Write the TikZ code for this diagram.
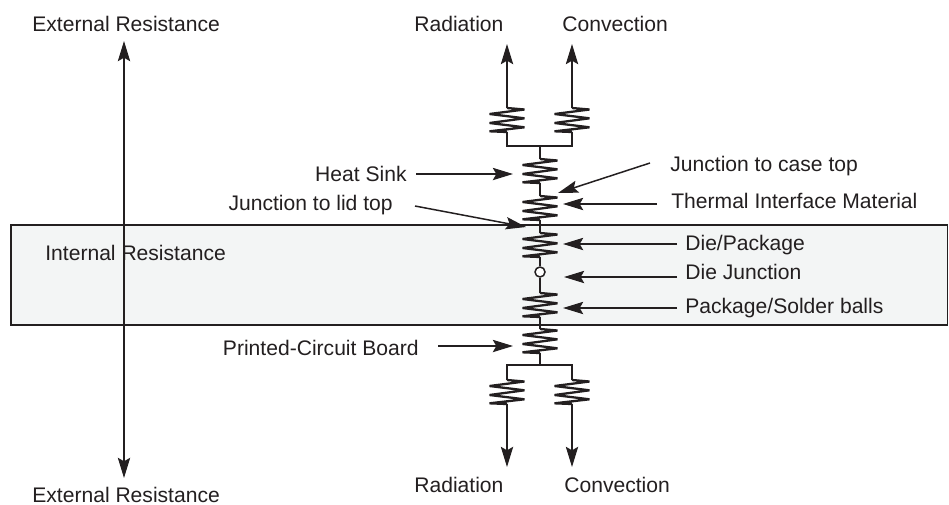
\documentclass[tikz,border=0pt]{standalone}
\usepackage{fontspec}
\setmainfont{Liberation Sans}
\usetikzlibrary{positioning, arrows.meta, calc}
\definecolor{bandfill}{HTML}{F3F5F5}
\definecolor{inkblack}{HTML}{231F20}
\tikzset{
    band/.style={
        rectangle,
        draw=inkblack,
        fill=bandfill,
        line width=0.85pt,
        inner sep=0pt,
        minimum width=18.73cm,
        minimum height=2cm
    },
    wire/.style={
        draw=inkblack,
        line width=0.85pt
    },
    flow/.style={
        draw=inkblack,
        line width=0.85pt,
        -{Stealth[length=11.5pt,width=7pt,inset=2pt]}
    },
    dualflow/.style={
        draw=inkblack,
        line width=0.85pt,
        {Stealth[length=11.5pt,width=7pt,inset=2pt]}-{Stealth[length=11.5pt,width=7pt,inset=2pt]}
    },
    lbl/.style={
        text=inkblack,
        font=\fontsize{12}{14}\selectfont,
        inner sep=0pt,
        anchor=base west
    },
    rlbl/.style={
        lbl,
        anchor=base east
    },
    junction/.style={
        circle,
        draw=inkblack,
        fill=white,
        line width=0.85pt,
        inner sep=0pt,
        minimum size=0.2cm
    },
    zigres/.pic={
        \coordinate (-t) at (0,-12);
        \coordinate (-b) at (0,12);
        \draw[draw=inkblack, line width=1.3pt, line join=bevel]
            (-t) -- (17.5,-10.5) -- (-17.5,-6) -- (17.5,-1.7) -- (-17.5,3) -- (17.5,7.3) -- (-17.5,11.3) -- (-b);
    }
}

\begin{document}
\begin{tikzpicture}[x=0.02cm, y=-0.02cm]
      \useasboundingbox (0,0) rectangle (949,504);

      \node[band] (band) at (479.3,275) {};

      % resistor chain
      \pic (rtl) at (507,120) {zigres};
      \pic (rtr) at (572,120) {zigres};
      \pic (hs)  at (540,171) {zigres};
      \pic (tim) at (540,208) {zigres};
      \pic (die) at (540,245) {zigres};
      \node[junction] (dj) at (540,272) {};
      \pic (pkg) at (540,305) {zigres};
      \pic (pcb) at (540,341) {zigres};
      \pic (rbl) at (507,392) {zigres};
      \pic (rbr) at (572,392) {zigres};

      \coordinate (tj) at (540,146);
      \coordinate (bj) at (540,365);

      \draw[wire] (rtl-b) |- (tj);
      \draw[wire] (rtr-b) |- (tj);
      \draw[wire] (tj) -- (hs-t);
      \draw[wire] (hs-b) -- (tim-t);
      \draw[wire] (tim-b) -- (die-t);
      \draw[wire] (die-b) -- (dj);
      \draw[wire] (dj) -- (pkg-t);
      \draw[wire] (pkg-b) -- (pcb-t);
      \draw[wire] (pcb-b) -- (bj);
      \draw[wire] (rbl-t) |- (bj);
      \draw[wire] (rbr-t) |- (bj);

      % outer flows
      \coordinate (rtlend) at (507,44);
      \coordinate (rtrend) at (572,44);
      \coordinate (rblend) at (507,467);
      \coordinate (rbrend) at (572,467);
      \draw[flow] (rtl-t) -- (rtlend);
      \draw[flow] (rtr-t) -- (rtrend);
      \draw[flow] (rbl-b) -- (rblend);
      \draw[flow] (rbr-b) -- (rbrend);

      \node[lbl] (radtop)  at (414,31)  {Radiation};
      \node[lbl] (contop)  at (562,31)  {Convection};
      \node[lbl] (radbot)  at (414,492) {Radiation};
      \node[lbl] (conbot)  at (564,492) {Convection};

      % external span
      \node[lbl] (exttop) at (32,31)  {External Resistance};
      \node[lbl] (extbot) at (32,502) {External Resistance};
      \coordinate (spant) at (124,41);
      \coordinate (spanb) at (124,478);
      \draw[dualflow] (spant) -- (spanb);
      \node[lbl] (intres) at (45,260) {Internal Resistance};

      % left callouts
      \node[rlbl] (hslbl)  at (407,181) {Heat Sink};
      \node[rlbl] (lidlbl) at (393,210) {Junction to lid top};
      \node[rlbl] (pcblbl) at (419,355) {Printed-Circuit Board};
      \coordinate (hssrc)  at (416,174);
      \coordinate (hstip)  at (513,174);
      \coordinate (lidsrc) at (415,206);
      \coordinate (lidtip) at (526,227);
      \coordinate (pcbsrc) at (438,346);
      \coordinate (pcbtip) at (513,346);
      \draw[flow] (hssrc) -- (hstip);
      \draw[flow] (lidsrc) -- (lidtip);
      \draw[flow] (pcbsrc) -- (pcbtip);

      % right callouts
      \node[lbl] (caselbl) at (670,171) {Junction to case top};
      \node[lbl] (timlbl)  at (671,208) {Thermal Interface Material};
      \node[lbl] (dielbl)  at (685,250) {Die/Package};
      \node[lbl] (djlbl)   at (685,279) {Die Junction};
      \node[lbl] (pkglbl)  at (685,313) {Package/Solder balls};
      \coordinate (casesrc) at (650,163);
      \coordinate (casetip) at (558,193);
      \coordinate (timsrc) at (657,204);
      \coordinate (timtip) at (563,204);
      \coordinate (diesrc) at (677,244);
      \coordinate (dietip) at (563,244);
      \coordinate (djsrc)  at (677,277);
      \coordinate (djtip)  at (564,277);
      \coordinate (pkgsrc) at (677,308);
      \coordinate (pkgtip) at (563,308);
      \draw[flow] (casesrc) -- (casetip);
      \draw[flow] (timsrc) -- (timtip);
      \draw[flow] (diesrc) -- (dietip);
      \draw[flow] (djsrc) -- (djtip);
      \draw[flow] (pkgsrc) -- (pkgtip);
\end{tikzpicture}
\end{document}
